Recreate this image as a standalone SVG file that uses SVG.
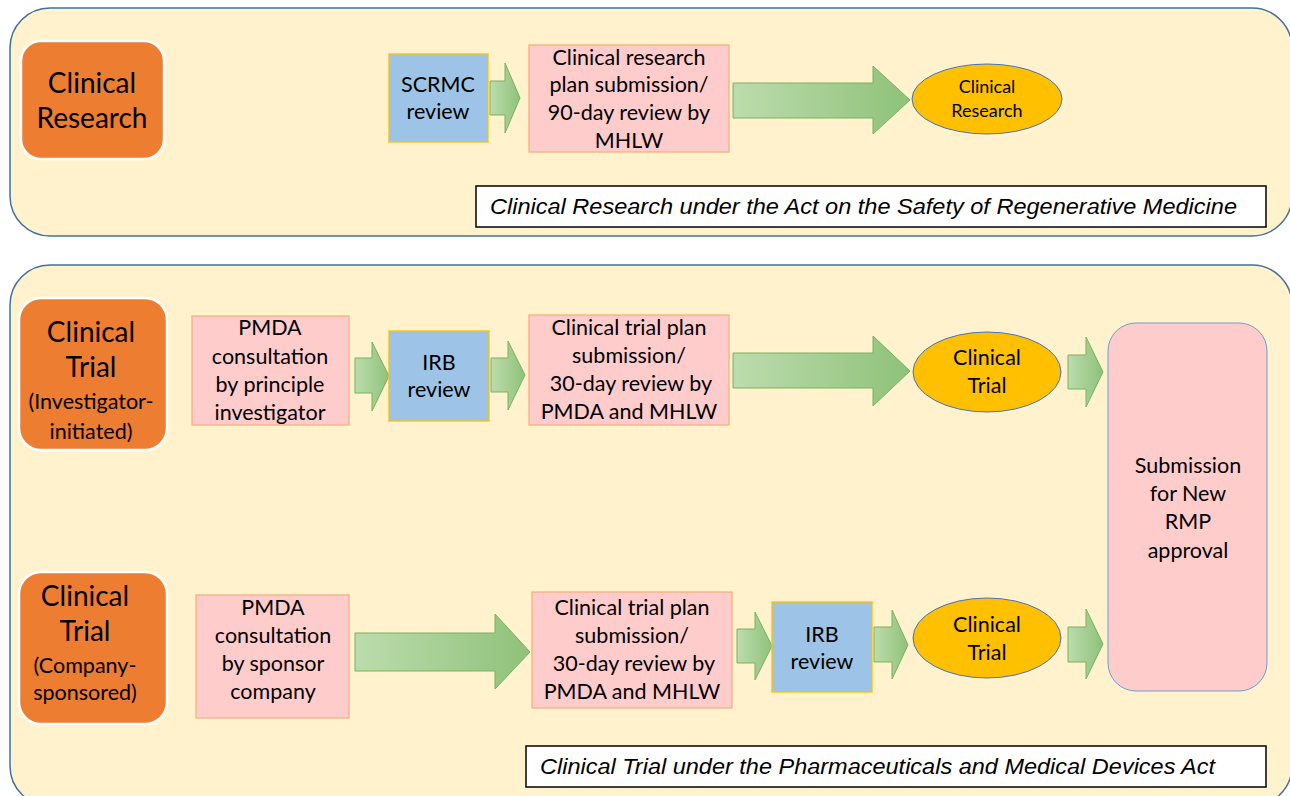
<svg xmlns="http://www.w3.org/2000/svg" width="1290" height="796" viewBox="0 0 1290 796">
<defs>
<linearGradient id="g" x1="0" y1="0" x2="1" y2="0">
<stop offset="0" stop-color="#BCDCAD"/>
<stop offset="1" stop-color="#8FC27A"/>
</linearGradient>
<style>
.panel{fill:#FFF2CC;stroke:#41719C;stroke-width:1.5}
.orange{fill:#ED7D31;stroke:#FFFFFF;stroke-width:2.5}
.pink{fill:#FFCCCC;stroke:#F4B183;stroke-width:1.3}
.blue{fill:#9DC3E6;stroke:#FFC000;stroke-width:1.3}
.ell{fill:#FFC000;stroke:#4472C4;stroke-width:1}
.big{fill:#FFCCCC;stroke:#6F9BD1;stroke-width:1}
.cap{fill:#FFFFFF;stroke:#000000;stroke-width:1.5}
.arr{fill:url(#g);stroke:#78B35C;stroke-width:1}
text{font-family:Lato,"Open Sans","Liberation Sans",sans-serif;fill:#000;text-anchor:middle}
.t20{font-size:21.5px}
.t26{font-size:28px}
.t16{font-size:18px}
.it{font-family:"Liberation Sans",Arial,sans-serif;font-style:italic;font-size:22px;text-anchor:start}
</style>
</defs>

<g id="panel-research">
<rect class="panel" x="10" y="8" width="1282" height="228" rx="40"/>
</g>
<g id="panel-trial">
<rect class="panel" x="10" y="265" width="1282" height="541" rx="40"/>
</g>

<g id="connectors">
<path class="arr" d="M490,81 H505 V63 L520,98 L505,133 V115 H490 Z"/>
<path class="arr" d="M733,83 H873 V66 L910,100 L873,134 V118 H733 Z"/>
<path class="arr" d="M355,358 H372 V342 L389,376 L372,411 V393 H355 Z"/>
<path class="arr" d="M491,358 H508 V341 L525,375 L508,410 V392 H491 Z"/>
<path class="arr" d="M733,353 H873 V336 L910,371 L873,406 V388 H733 Z"/>
<path class="arr" d="M1068,355 H1086 V337 L1103,372 L1086,407 V389 H1068 Z"/>
<path class="arr" d="M355,633 H495 V614 L530,652 L495,689 V671 H355 Z"/>
<path class="arr" d="M737,629 H755 V612 L772,646 L755,680 V663 H737 Z"/>
<path class="arr" d="M874,627 H892 V610 L908,645 L892,679 V662 H874 Z"/>
<path class="arr" d="M1068,627 H1086 V609 L1103,644 L1086,679 V662 H1068 Z"/>
</g>

<g id="label-research">
<rect class="orange" x="21" y="41" width="143" height="118" rx="20"/>
<text class="t26" x="92" y="93">Clinical</text>
<text class="t26" x="92" y="128">Research</text>
</g>

<g id="scrmc">
<rect class="blue" x="389" y="54" width="99" height="88"/>
<text class="t20" x="438" y="92">SCRMC</text>
<text class="t20" x="438" y="119">review</text>
</g>

<g id="research-plan">
<rect class="pink" x="529" y="45" width="200" height="107"/>
<text class="t20" x="629" y="65">Clinical research</text>
<text class="t20" x="629" y="92">plan submission/</text>
<text class="t20" x="629" y="120">90-day review by</text>
<text class="t20" x="629" y="148">MHLW</text>
</g>

<g id="research-result">
<ellipse class="ell" cx="987" cy="99" rx="75" ry="35"/>
<text class="t16" x="987" y="93">Clinical</text>
<text class="t16" x="987" y="117">Research</text>
</g>

<g id="caption-research">
<rect class="cap" x="476" y="186" width="790" height="41"/>
<text class="it" x="490" y="214" textLength="747" lengthAdjust="spacingAndGlyphs">Clinical Research under the Act on the Safety of Regenerative Medicine</text>
</g>

<g id="label-investigator">
<rect class="orange" x="19" y="298" width="148" height="152" rx="22"/>
<text class="t26" x="91" y="342">Clinical</text>
<text class="t26" x="91" y="377">Trial</text>
<text class="t20" x="91" y="409">(Investigator-</text>
<text class="t20" x="91" y="439">initiated)</text>
</g>

<g id="pmda-investigator">
<rect class="pink" x="192" y="316" width="157" height="109"/>
<text class="t20" x="270" y="335">PMDA</text>
<text class="t20" x="270" y="364">consultation</text>
<text class="t20" x="270" y="392">by principle</text>
<text class="t20" x="270" y="420">investigator</text>
</g>

<g id="irb-investigator">
<rect class="blue" x="389" y="331" width="100" height="90"/>
<text class="t20" x="439" y="370">IRB</text>
<text class="t20" x="439" y="397">review</text>
</g>

<g id="trial-plan-investigator">
<rect class="pink" x="529" y="315" width="200" height="110"/>
<text class="t20" x="629" y="335">Clinical trial plan</text>
<text class="t20" x="629" y="363">submission/</text>
<text class="t20" x="631" y="391">30-day review by</text>
<text class="t20" x="629" y="419">PMDA and MHLW</text>
</g>

<g id="trial-result-investigator">
<ellipse class="ell" cx="987" cy="372" rx="74" ry="40"/>
<text class="t20" x="987" y="365">Clinical</text>
<text class="t20" x="987" y="393">Trial</text>
</g>

<g id="submission">
<rect class="big" x="1108" y="323" width="159" height="368" rx="28"/>
<text class="t20" x="1188" y="473">Submission</text>
<text class="t20" x="1188" y="501">for New</text>
<text class="t20" x="1188" y="529">RMP</text>
<text class="t20" x="1188" y="558">approval</text>
</g>

<g id="label-company">
<rect class="orange" x="19" y="572" width="148" height="152" rx="22"/>
<text class="t26" x="85" y="606">Clinical</text>
<text class="t26" x="85" y="641">Trial</text>
<text class="t20" x="85" y="673">(Company-</text>
<text class="t20" x="85" y="700">sponsored)</text>
</g>

<g id="pmda-company">
<rect class="pink" x="196" y="595" width="153" height="123"/>
<text class="t20" x="273" y="615">PMDA</text>
<text class="t20" x="273" y="643">consultation</text>
<text class="t20" x="273" y="671">by sponsor</text>
<text class="t20" x="273" y="699">company</text>
</g>

<g id="trial-plan-company">
<rect class="pink" x="532" y="592" width="200" height="116"/>
<text class="t20" x="632" y="615">Clinical trial plan</text>
<text class="t20" x="632" y="643">submission/</text>
<text class="t20" x="634" y="671">30-day review by</text>
<text class="t20" x="632" y="699">PMDA and MHLW</text>
</g>

<g id="irb-company">
<rect class="blue" x="772" y="602" width="100" height="90"/>
<text class="t20" x="822" y="642">IRB</text>
<text class="t20" x="822" y="669">review</text>
</g>

<g id="trial-result-company">
<ellipse class="ell" cx="987" cy="638" rx="74" ry="40"/>
<text class="t20" x="987" y="632">Clinical</text>
<text class="t20" x="987" y="660">Trial</text>
</g>

<g id="caption-trial">
<rect class="cap" x="526" y="746" width="740" height="41"/>
<text class="it" x="540" y="774" textLength="675" lengthAdjust="spacingAndGlyphs">Clinical Trial under the Pharmaceuticals and Medical Devices Act</text>
</g>
</svg>
